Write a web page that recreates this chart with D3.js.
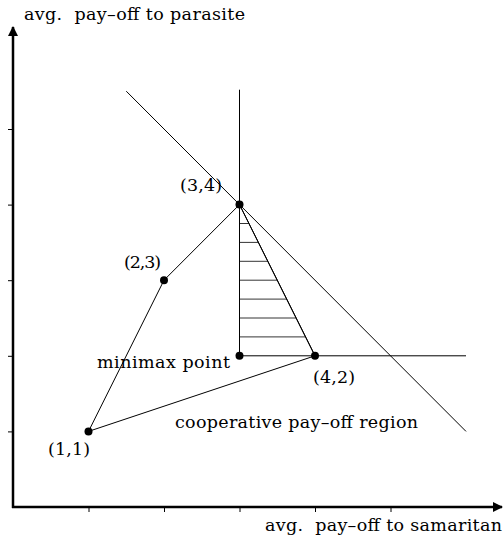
<!DOCTYPE html>
<html>
<head>
<meta charset="utf-8">
<script src="https://cdn.jsdelivr.net/npm/d3@7"></script>
<style>
  body { margin: 0; background: #fff; }
  text { font-family: "DejaVu Serif", serif; fill: #000; }
</style>
</head>
<body>
<div id="chart"></div>
<script>
// pay-off points
var points = [
  {name: "(1,1)", x: 1, y: 1},
  {name: "(2,3)", x: 2, y: 3},
  {name: "(3,4)", x: 3, y: 4},
  {name: "(4,2)", x: 4, y: 2}
];
var minimax = {x: 3, y: 2};
var xTicks = [1, 2, 3, 4, 5];
var yTicks = [1, 2, 3, 4, 5];
// hatch levels inside the shaded triangle
var hatchLevels = [2.25, 2.5, 2.75, 3, 3.25, 3.5, 3.75];

var width = 503, height = 537;
var svg = d3.select("#chart").append("svg")
    .attr("width", width)
    .attr("height", height);

var x = d3.scaleLinear().domain([0, 1]).range([13, 88.5]);
var y = d3.scaleLinear().domain([0, 1]).range([507, 431.4]);

// axes
var xAxis = d3.axisBottom(x).tickValues(xTicks).tickSize(5).tickFormat("");
var yAxis = d3.axisLeft(y).tickValues(yTicks).tickSize(5).tickFormat("");
var gx = svg.append("g").attr("transform", "translate(0," + y(0) + ")").call(xAxis);
var gy = svg.append("g").attr("transform", "translate(" + x(0) + ",0)").call(yAxis);
gx.select(".domain").remove();
gy.select(".domain").remove();

svg.append("defs").append("marker")
    .attr("id", "arrow")
    .attr("viewBox", "0 0 10 10")
    .attr("refX", 9).attr("refY", 5)
    .attr("markerWidth", 4).attr("markerHeight", 4)
    .attr("orient", "auto")
  .append("path")
    .attr("d", "M0,0 L10,5 L0,10 z")
    .attr("fill", "#000");

svg.append("line")
    .attr("x1", x(0) - 1).attr("y1", y(0))
    .attr("x2", width - 1).attr("y2", y(0))
    .attr("stroke", "#000").attr("stroke-width", 2.5)
    .attr("marker-end", "url(#arrow)");
svg.append("line")
    .attr("x1", x(0)).attr("y1", y(0) + 1)
    .attr("x2", x(0)).attr("y2", 27)
    .attr("stroke", "#000").attr("stroke-width", 2.5)
    .attr("marker-end", "url(#arrow)");

var line = d3.line().x(function(d) { return x(d[0]); }).y(function(d) { return y(d[1]); });

// threat lines from the minimax point
svg.append("path").attr("d", line([[3, 5.52], [3, 2], [6, 2]]))
    .attr("fill", "none").attr("stroke", "#000");
// pareto line x + y = 7
svg.append("path").attr("d", line([[1.5, 5.5], [6, 1]]))
    .attr("fill", "none").attr("stroke", "#000");

// cooperative region boundary
svg.append("path")
    .attr("d", line([[1, 1], [2, 3], [3, 4], [4, 2]]) + "Z")
    .attr("fill", "none").attr("stroke", "#000");

// hatching
svg.selectAll(".hatch").data(hatchLevels).enter().append("line")
    .attr("x1", x(3))
    .attr("x2", function(d) { return x(3 + (4 - d) / 2); })
    .attr("y1", function(d) { return y(d); })
    .attr("y2", function(d) { return y(d); })
    .attr("stroke", "#000").attr("stroke-width", 0.8);
svg.append("path").attr("d", line([[3, 4], [4, 2]]))
    .attr("fill", "none").attr("stroke", "#000");

// dots
svg.selectAll(".dot").data(points.concat([minimax])).enter().append("circle")
    .attr("cx", function(d) { return x(d.x); })
    .attr("cy", function(d) { return y(d.y); })
    .attr("r", 4)
    .attr("fill", "#000");

// labels
var fs = 17.5;
var labels = [
  {t: "(1,1)", px: 48, py: 455, w: 42},
  {t: "(2,3)", px: 124, py: 268, w: 37},
  {t: "(3,4)", px: 180, py: 191, w: 42},
  {t: "(4,2)", px: 313, py: 383, w: 42},
  {t: "minimax point", px: 97, py: 368, w: 133},
  {t: "cooperative pay\u2013off region", px: 175, py: 428, w: 243},
  {t: "avg.  pay\u2013off to parasite", px: 24, py: 20, w: 221},
  {t: "avg.  pay\u2013off to samaritan", px: 265, py: 531, w: 237}
];
svg.selectAll(".lbl").data(labels).enter().append("text")
    .attr("x", function(d) { return d.px; })
    .attr("y", function(d) { return d.py; })
    .attr("font-size", fs)
    .attr("textLength", function(d) { return d.w; })
    .attr("lengthAdjust", "spacing")
    .style("white-space", "pre")
    .text(function(d) { return d.t; });
</script>
</body>
</html>
